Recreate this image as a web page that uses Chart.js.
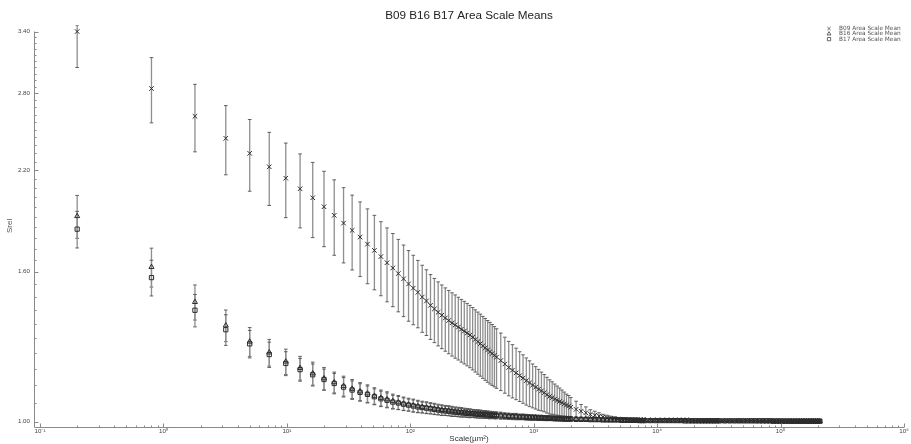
<!DOCTYPE html>
<html lang="en">
<head>
<meta charset="UTF-8">
<title>B09 B16 B17 Area Scale Means</title>
<style>
    html, body { margin: 0; padding: 0; background: #ffffff; }
    #wrap { width: 911px; height: 444px; }
</style>
</head>
<body>
<div id="wrap"><canvas id="chart" width="911" height="444"></canvas></div>

<script src="https://cdn.jsdelivr.net/npm/chart.js"></script>
<script>
// x = scale (area, um^2) of each analysis step
const scaleX = [
    // n = 1..50
    0.2, 0.8, 1.8, 3.2, 5, 7.2, 9.8, 12.8, 16.2, 20,
    24.2, 28.8, 33.8, 39.2, 45, 51.2, 57.8, 64.8, 72.2, 80,
    88.2, 96.8, 105.8, 115.2, 125, 135.2, 145.8, 156.8, 168.2, 180,
    192.2, 204.8, 217.8, 231.2, 245, 259.2, 273.8, 288.8, 304.2, 320,
    336.2, 352.8, 369.8, 387.2, 405, 423.2, 441.8, 460.8, 480.2, 500,
    // n = 52..100
    540.8, 583.2, 627.2, 672.8, 720, 768.8, 819.2, 871.2, 924.8, 980,
    1036.8, 1095.2, 1155.2, 1216.8, 1280, 1344.8, 1411.2, 1479.2, 1548.8, 1620,
    1692.8, 1767.2, 1843.2, 1920.8, 2000,
    // n = 105..200
    2205, 2420, 2645, 2880, 3125, 3380, 3645, 3920, 4205, 4500,
    4805, 5120, 5445, 5780, 6125, 6480, 6845, 7220, 7605, 8000,
    // n = 210..400
    8820, 9680, 10580, 11520, 12500, 13520, 14580, 15680, 16820, 18000,
    19220, 20480, 21780, 23120, 24500, 25920, 27380, 28880, 30420, 32000,
    // n = 420..1020
    35280, 38720, 42320, 46080, 50000, 54080, 58320, 62720, 67280, 72000,
    76880, 81920, 87120, 92480, 98000, 103680, 109520, 115520, 121680, 128000,
    134480, 141120, 147920, 154880, 162000, 169280, 176720, 184320, 192080, 200000,
    208080
];

const b09Mean = [
    3.40, 2.843, 2.606, 2.432, 2.32, 2.224, 2.146, 2.076, 2.018, 1.962,
    1.91, 1.864, 1.822, 1.784, 1.745, 1.711, 1.678, 1.646, 1.619, 1.591,
    1.565, 1.54, 1.52, 1.50, 1.478, 1.46, 1.44, 1.424, 1.409, 1.396,
    1.384, 1.373, 1.363, 1.354, 1.345, 1.336, 1.328, 1.32, 1.312, 1.303,
    1.294, 1.285, 1.277, 1.268, 1.26, 1.252, 1.245, 1.238, 1.231, 1.224,
    1.211, 1.198, 1.185, 1.175, 1.165, 1.155, 1.146, 1.137, 1.129, 1.121,
    1.114, 1.107, 1.101, 1.095, 1.088, 1.082, 1.078, 1.073, 1.069, 1.065,
    1.061, 1.057, 1.053, 1.050, 1.046,
    1.039, 1.033, 1.028, 1.023, 1.020, 1.017, 1.014, 1.012, 1.010, 1.009,
    1.008, 1.007, 1.007, 1.006, 1.006, 1.005, 1.005, 1.005, 1.004, 1.004,
    1.004, 1.004, 1.004, 1.004, 1.004, 1.004, 1.004, 1.003, 1.003, 1.003,
    1.003, 1.003, 1.003, 1.003, 1.003, 1.003, 1.003, 1.003, 1.003, 1.003,
    1.003, 1.003, 1.003, 1.003, 1.003, 1.003, 1.003, 1.003, 1.002, 1.002,
    1.002, 1.002, 1.002, 1.002, 1.002, 1.002, 1.002, 1.002, 1.002, 1.002,
    1.002, 1.002, 1.002, 1.002, 1.002, 1.002, 1.002, 1.002, 1.002, 1.002,
    1.002
];
const b09Sd = [
    0.363, 0.29, 0.275, 0.263, 0.26, 0.254, 0.25, 0.24, 0.237, 0.231,
    0.225, 0.219, 0.213, 0.208, 0.204, 0.199, 0.194, 0.19, 0.185, 0.18,
    0.175, 0.17, 0.165, 0.158, 0.155, 0.15, 0.146, 0.143, 0.141, 0.139,
    0.137, 0.136, 0.135, 0.134, 0.132, 0.131, 0.13, 0.129, 0.128, 0.127,
    0.126, 0.125, 0.124, 0.123, 0.122, 0.121, 0.12, 0.118, 0.116, 0.114,
    0.109, 0.105, 0.101, 0.098, 0.094, 0.09, 0.087, 0.084, 0.081, 0.077,
    0.074, 0.071, 0.067, 0.064, 0.061, 0.058, 0.055, 0.052, 0.049, 0.046,
    0.043, 0.04, 0.037, 0.035, 0.032,
    0.027, 0.022, 0.019, 0.015, 0.013, 0.011, 0.009, 0.008, 0.007, 0.006,
    0.005, 0.005, 0.004, 0.004, 0.004, 0.004, 0.003, 0.003, 0.003, 0.003,
    0.003, 0.003, 0.003, 0.003, 0.003, 0.003, 0.002, 0.002, 0.002, 0.002,
    0.002, 0.002, 0.002, 0.002, 0.002, 0.002, 0.002, 0.002, 0.002, 0.002,
    0.002, 0.002, 0.002, 0.002, 0.002, 0.002, 0.002, 0.002, 0.002, 0.002,
    0.002, 0.002, 0.002, 0.002, 0.002, 0.002, 0.002, 0.002, 0.002, 0.002,
    0.002, 0.002, 0.002, 0.002, 0.002, 0.002, 0.002, 0.002, 0.002, 0.002,
    0.002
];

const b16Mean = [
    1.905, 1.624, 1.455, 1.352, 1.285, 1.242, 1.207, 1.183, 1.163, 1.145,
    1.131, 1.118, 1.108, 1.099, 1.092, 1.084, 1.077, 1.072, 1.066, 1.062,
    1.058, 1.055, 1.052, 1.049, 1.047, 1.045, 1.043, 1.041, 1.039, 1.037,
    1.036, 1.035, 1.033, 1.032, 1.031, 1.030, 1.029, 1.028, 1.027, 1.026,
    1.025, 1.025, 1.024, 1.023, 1.023, 1.022, 1.021, 1.021, 1.020, 1.020,
    1.019, 1.018, 1.017, 1.016, 1.016, 1.015, 1.015, 1.014, 1.013, 1.013,
    1.013, 1.012, 1.012, 1.011, 1.011, 1.011, 1.010, 1.010, 1.010, 1.009,
    1.009, 1.009, 1.009, 1.009, 1.008,
    1.008, 1.007, 1.007, 1.007, 1.006, 1.006, 1.006, 1.006, 1.005, 1.005,
    1.005, 1.005, 1.005, 1.004, 1.004, 1.004, 1.004, 1.004, 1.004, 1.004,
    1.003, 1.003, 1.003, 1.003, 1.003, 1.003, 1.003, 1.003, 1.003, 1.003,
    1.002, 1.002, 1.002, 1.002, 1.002, 1.002, 1.002, 1.002, 1.002, 1.002,
    1.002, 1.002, 1.002, 1.002, 1.002, 1.002, 1.002, 1.002, 1.002, 1.002,
    1.002, 1.002, 1.002, 1.002, 1.002, 1.001, 1.001, 1.001, 1.001, 1.001,
    1.001, 1.001, 1.001, 1.001, 1.001, 1.001, 1.001, 1.001, 1.001, 1.001,
    1.001
];
const b16Sd = [
    0.128, 0.099, 0.08, 0.067, 0.058, 0.052, 0.048, 0.044, 0.042, 0.040,
    0.037, 0.035, 0.033, 0.031, 0.030, 0.028, 0.027, 0.026, 0.024, 0.023,
    0.022, 0.021, 0.021, 0.020, 0.019, 0.019, 0.018, 0.018, 0.017, 0.017,
    0.016, 0.016, 0.016, 0.015, 0.015, 0.015, 0.014, 0.014, 0.014, 0.013,
    0.013, 0.013, 0.013, 0.012, 0.012, 0.012, 0.012, 0.011, 0.011, 0.011,
    0.011, 0.010, 0.010, 0.010, 0.010, 0.009, 0.009, 0.009, 0.009, 0.008,
    0.008, 0.008, 0.008, 0.008, 0.008, 0.007, 0.007, 0.007, 0.007, 0.007,
    0.007, 0.007, 0.006, 0.006, 0.006,
    0.006, 0.006, 0.006, 0.006, 0.005, 0.005, 0.005, 0.005, 0.005, 0.005,
    0.005, 0.004, 0.004, 0.004, 0.004, 0.004, 0.004, 0.004, 0.004, 0.004,
    0.003, 0.003, 0.003, 0.003, 0.003, 0.003, 0.003, 0.003, 0.003, 0.003,
    0.003, 0.003, 0.002, 0.002, 0.002, 0.002, 0.002, 0.002, 0.002, 0.002,
    0.002, 0.002, 0.002, 0.002, 0.002, 0.002, 0.002, 0.002, 0.002, 0.002,
    0.002, 0.002, 0.002, 0.002, 0.002, 0.002, 0.001, 0.001, 0.001, 0.001,
    0.001, 0.001, 0.001, 0.001, 0.001, 0.001, 0.001, 0.001, 0.001, 0.001,
    0.001
];

const b17Mean = [
    1.829, 1.571, 1.418, 1.334, 1.276, 1.234, 1.200, 1.177, 1.158, 1.141,
    1.127, 1.114, 1.104, 1.096, 1.089, 1.081, 1.074, 1.069, 1.063, 1.060,
    1.056, 1.053, 1.050, 1.047, 1.045, 1.043, 1.041, 1.039, 1.037, 1.035,
    1.034, 1.033, 1.031, 1.030, 1.029, 1.028, 1.027, 1.026, 1.025, 1.025,
    1.024, 1.023, 1.023, 1.022, 1.021, 1.021, 1.020, 1.020, 1.019, 1.019,
    1.018, 1.017, 1.016, 1.016, 1.015, 1.014, 1.014, 1.013, 1.013, 1.012,
    1.012, 1.011, 1.011, 1.011, 1.010, 1.010, 1.010, 1.009, 1.009, 1.009,
    1.009, 1.008, 1.008, 1.008, 1.008,
    1.007, 1.007, 1.007, 1.006, 1.006, 1.006, 1.005, 1.005, 1.005, 1.005,
    1.005, 1.004, 1.004, 1.004, 1.004, 1.004, 1.004, 1.003, 1.003, 1.003,
    1.003, 1.003, 1.003, 1.003, 1.003, 1.003, 1.003, 1.003, 1.002, 1.002,
    1.002, 1.002, 1.002, 1.002, 1.002, 1.002, 1.002, 1.002, 1.002, 1.002,
    1.002, 1.002, 1.002, 1.002, 1.002, 1.002, 1.002, 1.002, 1.002, 1.002,
    1.002, 1.002, 1.001, 1.001, 1.001, 1.001, 1.001, 1.001, 1.001, 1.001,
    1.001, 1.001, 1.001, 1.001, 1.001, 1.001, 1.001, 1.001, 1.001, 1.001,
    1.001
];
const b17Sd = [
    0.105, 0.088, 0.072, 0.064, 0.055, 0.049, 0.045, 0.042, 0.040, 0.038,
    0.036, 0.034, 0.032, 0.030, 0.029, 0.027, 0.026, 0.025, 0.023, 0.022,
    0.021, 0.020, 0.020, 0.019, 0.018, 0.018, 0.017, 0.017, 0.016, 0.016,
    0.015, 0.015, 0.015, 0.014, 0.014, 0.014, 0.013, 0.013, 0.013, 0.012,
    0.012, 0.012, 0.012, 0.011, 0.011, 0.011, 0.011, 0.010, 0.010, 0.010,
    0.010, 0.009, 0.009, 0.009, 0.009, 0.008, 0.008, 0.008, 0.008, 0.008,
    0.007, 0.007, 0.007, 0.007, 0.007, 0.007, 0.007, 0.006, 0.006, 0.006,
    0.006, 0.006, 0.006, 0.006, 0.006,
    0.005, 0.005, 0.005, 0.005, 0.005, 0.005, 0.005, 0.005, 0.005, 0.005,
    0.004, 0.004, 0.004, 0.004, 0.004, 0.004, 0.004, 0.004, 0.004, 0.004,
    0.003, 0.003, 0.003, 0.003, 0.003, 0.003, 0.003, 0.003, 0.003, 0.003,
    0.002, 0.002, 0.002, 0.002, 0.002, 0.002, 0.002, 0.002, 0.002, 0.002,
    0.002, 0.002, 0.002, 0.002, 0.002, 0.002, 0.002, 0.002, 0.002, 0.002,
    0.002, 0.002, 0.002, 0.002, 0.001, 0.001, 0.001, 0.001, 0.001, 0.001,
    0.001, 0.001, 0.001, 0.001, 0.001, 0.001, 0.001, 0.001, 0.001, 0.001,
    0.001
];

// axes
const xTicks = [0.1, 1, 10, 100, 1000, 10000, 100000, 1000000];
const xTickLabels = ['10⁻¹', '10⁰', '10¹', '10²', '10³', '10⁴', '10⁵', '10⁶'];
const yTicks = [1.0, 1.6, 2.2, 2.8, 3.4];
const yTickLabels = ['1.00', '1.60', '2.20', '2.80', '3.40'];
const X_MIN = 0.0894, X_MAX = 1000000;
const Y_MIN = 0.984, Y_MAX = 3.47;

[b09Mean, b09Sd, b16Mean, b16Sd, b17Mean, b17Sd].forEach((arr, k) => {
    if (arr.length !== scaleX.length) throw new Error('array ' + k + ' has ' + arr.length + ' values, expected ' + scaleX.length);
});

const AXIS_COLOR = '#8a8a8a';
const ERR_COLOR = '#8e8e8e';
const CAP_COLOR = '#505050';
const MARK_COLOR = '#2c2c2c';

Chart.defaults.font.family = "'Liberation Sans', Arial, sans-serif";

function series(label, mean, sd, style, radius) {
    return {
        label: label,
        data: scaleX.map((x, i) => ({ x: x, y: mean[i] })),
        errors: sd,
        pointStyle: style,
        pointRadius: radius,
        pointHoverRadius: radius,
        borderWidth: 1,
        borderColor: MARK_COLOR,
        backgroundColor: 'rgba(0,0,0,0)'
    };
}

// vertical error bars with caps, placed through the chart scales
const errorBars = {
    id: 'errorBars',
    beforeDatasetsDraw(chart) {
        const { ctx, chartArea, scales: { x, y } } = chart;
        ctx.save();
        ctx.beginPath();
        ctx.rect(chartArea.left, chartArea.top, chartArea.width, chartArea.height);
        ctx.clip();
        chart.data.datasets.forEach(ds => {
            ds.data.forEach((p, i) => {
                const sd = ds.errors[i];
                const px = x.getPixelForValue(p.x);
                const yh = y.getPixelForValue(Math.min(p.y + sd, y.max));
                const yl = y.getPixelForValue(p.y - sd);
                ctx.strokeStyle = ERR_COLOR;
                ctx.lineWidth = 1.3;
                ctx.beginPath();
                ctx.moveTo(px, yh);
                ctx.lineTo(px, yl);
                ctx.stroke();
                ctx.strokeStyle = CAP_COLOR;
                ctx.lineWidth = 0.9;
                ctx.beginPath();
                ctx.moveTo(px - 1.8, yh);
                ctx.lineTo(px + 1.8, yh);
                ctx.moveTo(px - 1.8, yl);
                ctx.lineTo(px + 1.8, yl);
                ctx.stroke();
            });
        });
        ctx.restore();
    }
};

// axis lines with inward major / minor tick marks
const axisLines = {
    id: 'axisLines',
    afterDraw(chart) {
        const { ctx, chartArea, scales: { x, y } } = chart;
        const bottom = Math.round(chartArea.bottom) + 0.5;
        const left = Math.round(chartArea.left) + 0.5;
        const yTop = y.getPixelForValue(yTicks[yTicks.length - 1]);
        ctx.save();
        ctx.strokeStyle = AXIS_COLOR;
        ctx.lineWidth = 1;
        ctx.beginPath();
        ctx.moveTo(left, bottom);
        ctx.lineTo(x.getPixelForValue(X_MAX), bottom);
        ctx.moveTo(left, bottom);
        ctx.lineTo(left, yTop);
        // x ticks
        for (let d = -1; d <= 6; d++) {
            const base = Math.pow(10, d);
            const px = Math.round(x.getPixelForValue(base)) + 0.5;
            ctx.moveTo(px, bottom);
            ctx.lineTo(px, bottom - 4);
            if (d === 6) break;
            for (let k = 2; k <= 9; k++) {
                const mx = Math.round(x.getPixelForValue(k * base)) + 0.5;
                ctx.moveTo(mx, bottom);
                ctx.lineTo(mx, bottom - 2);
            }
        }
        // y ticks
        yTicks.forEach(v => {
            const py = Math.round(y.getPixelForValue(v)) + 0.5;
            ctx.moveTo(left, py);
            ctx.lineTo(left + 4, py);
        });
        for (let j = 1; j < 40; j++) {
            if (j % 10 === 0) continue;
            const py = Math.round(y.getPixelForValue(1 + j * 0.06)) + 0.5;
            ctx.moveTo(left, py);
            ctx.lineTo(left + 2, py);
        }
        ctx.stroke();
        ctx.restore();
    }
};

// small legend in the upper right corner of the plot
const cornerLegend = {
    id: 'cornerLegend',
    afterDraw(chart) {
        const { ctx, chartArea } = chart;
        ctx.save();
        ctx.font = "5.8px 'DejaVu Sans'";
        ctx.textBaseline = 'middle';
        ctx.textAlign = 'left';
        chart.data.datasets.forEach((ds, i) => {
            const yy = chartArea.top + 3.5 + i * 5.3;
            ctx.strokeStyle = '#666666';
            ctx.fillStyle = 'rgba(0,0,0,0)';
            Chart.helpers.drawPoint(ctx, { pointStyle: ds.pointStyle, radius: 2.3, borderWidth: 0.8, rotation: 0 }, chartArea.right - 75, yy);
            ctx.fillStyle = '#555555';
            ctx.fillText(ds.label, chartArea.right - 65, yy);
        });
        ctx.restore();
    }
};

new Chart(document.getElementById('chart'), {
    type: 'scatter',
    data: {
        datasets: [
            series('B09 Area Scale Mean', b09Mean, b09Sd, 'crossRot', 3.2),
            series('B16 Area Scale Mean', b16Mean, b16Sd, 'triangle', 2.9),
            series('B17 Area Scale Mean', b17Mean, b17Sd, 'rect', 3.0)
        ]
    },
    options: {
        responsive: false,
        animation: false,
        events: [],
        layout: { padding: { left: 0, right: 7, top: 0, bottom: 0 } },
        plugins: {
            legend: { display: false },
            tooltip: { enabled: false },
            title: {
                display: true,
                text: 'B09 B16 B17 Area Scale Means',
                fullSize: false,
                color: '#222222',
                font: { size: 11.7, weight: 'normal' },
                padding: { top: 9, bottom: 2 }
            }
        },
        scales: {
            x: {
                type: 'logarithmic',
                min: X_MIN,
                max: X_MAX,
                afterBuildTicks: s => { s.ticks = xTicks.map(v => ({ value: v })); },
                afterFit: s => { s.height = 17.3; },
                grid: { display: false, drawTicks: false },
                border: { display: false },
                ticks: {
                    autoSkip: false,
                    maxRotation: 0,
                    padding: 1,
                    color: '#444444',
                    font: { size: 6.2 },
                    callback: (v, i) => xTickLabels[i]
                },
                title: {
                    display: true,
                    text: 'Scale(µm²)',
                    color: '#333333',
                    font: { size: 8 },
                    padding: { top: 0, bottom: 0.7 }
                }
            },
            y: {
                type: 'logarithmic',
                min: Y_MIN,
                max: Y_MAX,
                afterBuildTicks: s => { s.ticks = yTicks.map(v => ({ value: v })); },
                afterFit: s => { s.width = 34; },
                grid: { display: false, drawTicks: false },
                border: { display: false },
                ticks: {
                    autoSkip: false,
                    padding: 4,
                    color: '#444444',
                    font: { size: 6.2 },
                    callback: (v, i) => yTickLabels[i]
                },
                title: {
                    display: true,
                    text: 'Srel',
                    color: '#555555',
                    font: { size: 8 },
                    padding: { top: 5.2, bottom: 0 }
                }
            }
        }
    },
    plugins: [errorBars, axisLines, cornerLegend]
});
</script>
</body>
</html>
